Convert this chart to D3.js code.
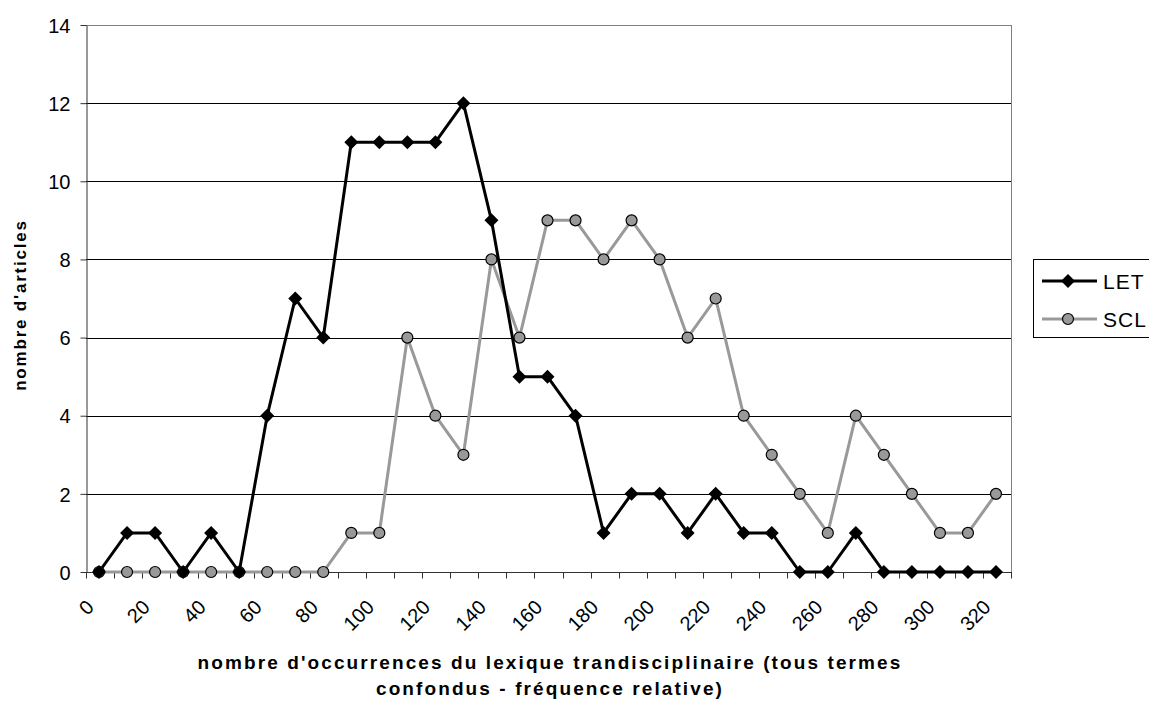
<!DOCTYPE html>
<html>
<head>
<meta charset="utf-8">
<script src="https://cdn.jsdelivr.net/npm/d3@7"></script>
<style>
  html, body { margin: 0; padding: 0; background: #fff; }
  svg { display: block; font-family: Arial, "Liberation Sans", sans-serif; }
</style>
</head>
<body>
<svg id="chart" width="1149" height="702"></svg>
<script>
// Occurrence classes (step 10) and number of articles per class
const categories = d3.range(0, 330, 10);
const tickLabels = d3.range(0, 330, 20);
const letValues = [0,1,1,0,1,0,4,7,6,11,11,11,11,12,9,5,5,4,1,2,2,1,2,1,1,0,0,1,0,0,0,0,0];
const sclValues = [0,0,0,0,0,0,0,0,0,1,1,6,4,3,8,6,9,9,8,9,8,6,7,4,3,2,1,4,3,2,1,1,2];
const yTicks = [0,2,4,6,8,10,12,14];
const seriesNames = ["LET", "SCL"];

const FONT = "Arial, 'Liberation Sans', sans-serif";
const svg = d3.select("#chart");
const plot = { left: 86, top: 25, right: 1011, bottom: 572 };

const x = d3.scaleBand().domain(categories).range([plot.left, plot.right]);
const y = d3.scaleLinear().domain([0, 14]).range([plot.bottom, plot.top]);
const cx = d => x(d) + x.bandwidth() / 2 - 1;

// horizontal gridlines
svg.append("g").selectAll("line").data(yTicks.filter(t => t > 0)).join("line")
  .attr("x1", plot.left).attr("x2", plot.right)
  .attr("y1", d => Math.round(y(d)) + 0.5).attr("y2", d => Math.round(y(d)) + 0.5)
  .attr("stroke", d => d === 14 ? "#808080" : "#000").attr("stroke-width", 1);

// right border of the plot area
svg.append("line")
  .attr("x1", plot.right + 0.5).attr("x2", plot.right + 0.5)
  .attr("y1", plot.top).attr("y2", plot.bottom)
  .attr("stroke", "#808080");

// y axis
const yAxis = svg.append("g")
  .attr("transform", `translate(${plot.left + 0.5},0)`)
  .call(d3.axisLeft(y).tickValues(yTicks).tickSize(6).tickPadding(10).tickSizeOuter(0));
yAxis.select(".domain").attr("stroke", "#333");
yAxis.selectAll(".tick line").attr("stroke", "#333");
yAxis.selectAll("text").attr("font-size", 20).attr("fill", "#000")
  .attr("font-family", FONT).attr("dy", "0.36em");

// x axis: ticks at band boundaries, labels every other class
const xg = svg.append("g").attr("transform", `translate(0,${plot.bottom + 0.5})`);
xg.append("line").attr("x1", plot.left).attr("x2", plot.right + 1)
  .attr("stroke", "#333");
xg.selectAll("line.tk").data(categories.concat(["end"])).join("line")
  .attr("class", "tk")
  .attr("x1", d => Math.round(d === "end" ? plot.right : x(d)) + 0.5)
  .attr("x2", d => Math.round(d === "end" ? plot.right : x(d)) + 0.5)
  .attr("y1", 0).attr("y2", 6).attr("stroke", "#333");
xg.selectAll("text").data(tickLabels).join("text")
  .attr("transform", d => `translate(${cx(d) - 4},${36}) rotate(-45)`)
  .attr("text-anchor", "end")
  .attr("font-size", 20).attr("fill", "#000").attr("font-family", FONT)
  .text(d => d);

// lines
const line = d3.line().x((d, i) => cx(categories[i])).y(d => y(d));
svg.append("path").datum(sclValues).attr("d", line)
  .attr("fill", "none").attr("stroke", "#999").attr("stroke-width", 3).attr("stroke-linejoin", "round");
svg.append("path").datum(letValues).attr("d", line)
  .attr("fill", "none").attr("stroke", "#000").attr("stroke-width", 3).attr("stroke-linejoin", "round");

// markers
const diamondPath = "M0,-7L7,0L0,7L-7,0Z";
svg.append("g").selectAll("circle").data(sclValues).join("circle")
  .attr("cx", (d, i) => cx(categories[i])).attr("cy", d => y(d)).attr("r", 5.5)
  .attr("fill", "#999").attr("stroke", "#000").attr("stroke-width", 1.2);
svg.append("g").selectAll("path").data(letValues).join("path")
  .attr("d", diamondPath)
  .attr("transform", (d, i) => `translate(${cx(categories[i])},${y(d)})`)
  .attr("fill", "#000");

// axis titles
svg.append("text")
  .attr("transform", `translate(26,305) rotate(-90)`)
  .attr("text-anchor", "middle").attr("font-size", 17).attr("font-weight", "bold")
  .attr("letter-spacing", 1.8)
  .text("nombre d'articles");
const xt = svg.append("text").attr("text-anchor", "middle").attr("font-size", 19)
  .attr("font-weight", "bold").attr("letter-spacing", 2.1);
xt.append("tspan").attr("x", 550).attr("y", 669)
  .text("nombre d'occurrences du lexique trandisciplinaire (tous termes");
xt.append("tspan").attr("x", 550).attr("y", 695)
  .text("confondus - fréquence relative)");

// legend
const lg = svg.append("g");
lg.append("rect").attr("x", 1033.5).attr("y", 259.5).attr("width", 130).attr("height", 78)
  .attr("fill", "#fff").attr("stroke", "#000");
const legendRows = [{ name: seriesNames[0], y: 281 }, { name: seriesNames[1], y: 319 }];
legendRows.forEach((r, i) => {
  lg.append("line").attr("x1", 1042).attr("x2", 1097).attr("y1", r.y).attr("y2", r.y)
    .attr("stroke", i === 0 ? "#000" : "#999").attr("stroke-width", 3);
  if (i === 0) {
    lg.append("path").attr("d", diamondPath)
      .attr("transform", `translate(1068,${r.y})`).attr("fill", "#000");
  } else {
    lg.append("circle").attr("cx", 1068).attr("cy", r.y).attr("r", 5.5)
      .attr("fill", "#999").attr("stroke", "#000").attr("stroke-width", 1.2);
  }
  lg.append("text").attr("x", 1103).attr("y", r.y).attr("dy", "0.36em")
    .attr("font-size", 21).attr("letter-spacing", 1).attr("font-family", FONT).text(r.name);
});
</script>
</body>
</html>
